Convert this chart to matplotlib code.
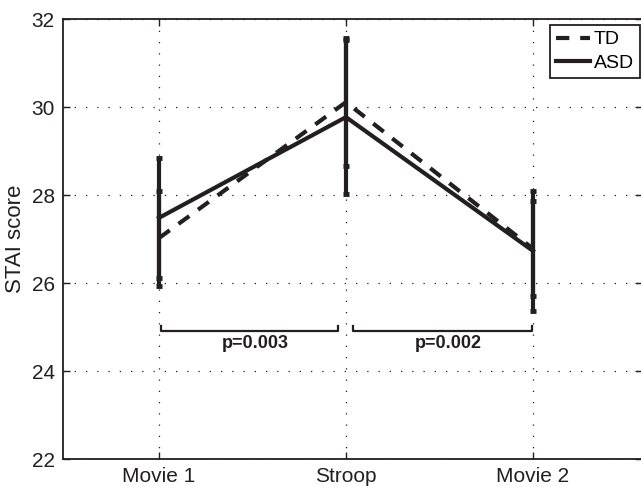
import matplotlib
matplotlib.use('Agg')
import matplotlib.pyplot as plt

plt.rcParams['font.family'] = ['Liberation Sans', 'DejaVu Sans']

# data
conditions = ['Movie 1', 'Stroop', 'Movie 2']
td_mean = [27.02, 30.11, 26.78]
td_err = [1.08, 1.45, 1.08]
asd_mean = [27.48, 29.77, 26.73]
asd_err = [1.37, 1.75, 1.36]
p_labels = ['p=0.003', 'p=0.002']
bracket_y = 24.92

ink = '#231f20'
x = [1, 2, 3]

fig = plt.figure(figsize=(6.41, 4.86), dpi=100)
ax = fig.add_axes([63 / 641, 27 / 486, 579 / 641, 440 / 486])

# error bars first, then mean lines
ax.errorbar(x, asd_mean, yerr=asd_err, fmt='none', ecolor=ink, elinewidth=3,
            capsize=2.3, capthick=3.5, zorder=3)
ax.errorbar(x, td_mean, yerr=td_err, fmt='none', ecolor=ink, elinewidth=3,
            capsize=2.3, capthick=3.5, zorder=3)
ax.plot(x, td_mean, color=ink, lw=3, ls=(0, (3.2, 2.6)), label='TD', zorder=4)
ax.plot(x, asd_mean, color=ink, lw=3, ls='-', label='ASD', zorder=4)

# significance brackets
pairs = [(1.01, 1.96), (2.04, 2.995)]
for (a, b), lab in zip(pairs, p_labels):
    ax.plot([a, a, b, b], [bracket_y + 0.1, bracket_y, bracket_y, bracket_y + 0.1],
            color=ink, lw=1.6, zorder=3)
    ax.text((a + b) / 2 + 0.03, bracket_y - 0.1, lab, ha='center', va='top',
            fontsize=13, fontweight='bold', color=ink)

ax.set_xlim(0.487, 3.583)
ax.set_ylim(22, 32)
ax.set_xticks(x)
ax.set_xticklabels(conditions)
ax.set_yticks(range(22, 33, 2))
ax.set_ylabel('STAI score', fontsize=16, labelpad=4, color=ink)

ax.grid(True, color=ink, ls=(0, (1, 8)), lw=0.9)
ax.tick_params(direction='in', top=True, right=True, length=5, width=1,
               labelsize=15, colors=ink, pad=6)
for s in ax.spines.values():
    s.set_linewidth(1.3)
    s.set_color(ink)

leg = ax.legend(loc='upper right', bbox_to_anchor=(640 / 641, 1 - 25 / 486),
                bbox_transform=fig.transFigure, borderaxespad=0, fontsize=14,
                handlelength=1.75, handletextpad=0.2, borderpad=0.3,
                labelspacing=0.3, fancybox=False, framealpha=1)
leg.get_frame().set_edgecolor(ink)
leg.get_frame().set_linewidth(1.3)

fig.savefig('out.png', dpi=100)
